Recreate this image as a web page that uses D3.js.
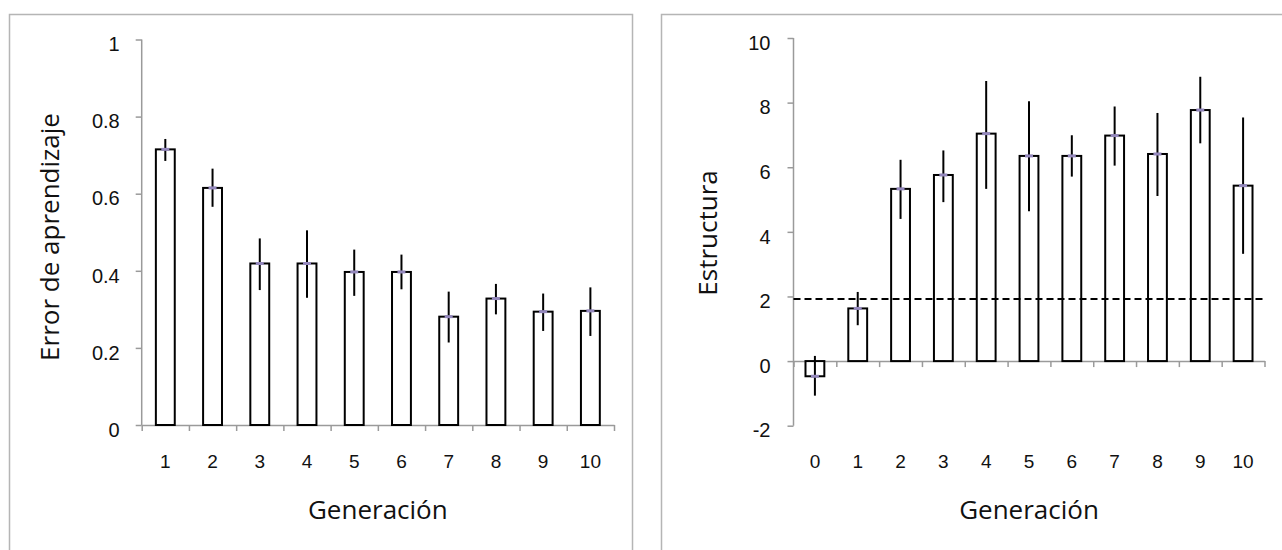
<!DOCTYPE html>
<html>
<head>
<meta charset="utf-8">
<script src="https://cdn.jsdelivr.net/npm/d3@7"></script>
<style>
  body { margin: 0; background: #fff; }
  svg { display: block; font-family: "Open Sans", Lato, sans-serif; }
</style>
</head>
<body>
<svg id="chart" width="1282" height="550"></svg>
<script>
// left panel: learning error per generation
const genLeft = ["1", "2", "3", "4", "5", "6", "7", "8", "9", "10"];
const errorMean = [0.715, 0.615, 0.419, 0.419, 0.397, 0.397, 0.281, 0.328, 0.294, 0.296];
const errorLow  = [0.685, 0.566, 0.350, 0.330, 0.335, 0.352, 0.214, 0.287, 0.244, 0.231];
const errorHigh = [0.742, 0.665, 0.484, 0.505, 0.455, 0.442, 0.346, 0.366, 0.341, 0.357];
const errorTicks = [0, 0.2, 0.4, 0.6, 0.8, 1];

// right panel: structure per generation
const genRight = ["0", "1", "2", "3", "4", "5", "6", "7", "8", "9", "10"];
const structMean = [-0.47, 1.63, 5.33, 5.76, 7.04, 6.35, 6.35, 6.98, 6.41, 7.77, 5.43];
const structLow  = [-1.07, 1.11, 4.40, 4.92, 5.33, 4.64, 5.71, 6.05, 5.11, 6.74, 3.32];
const structHigh = [0.16, 2.14, 6.23, 6.52, 8.67, 8.04, 6.99, 7.88, 7.68, 8.80, 7.54];
const structTicks = [-2, 0, 2, 4, 6, 8, 10];
const chanceLevel = 1.92;

const svg = d3.select("#chart");
const axisColor = "#9a9a9a";

// panel frames
svg.append("rect").attr("x", 9.5).attr("y", 14.5).attr("width", 623).attr("height", 600)
    .attr("fill", "none").attr("stroke", "#b5b5b5").attr("stroke-width", 1.5);
svg.append("rect").attr("x", 661.5).attr("y", 14.5).attr("width", 700).attr("height", 600)
    .attr("fill", "none").attr("stroke", "#b5b5b5").attr("stroke-width", 1.5);

function drawPanel(opt) {
    const g = svg.append("g");
    const n = opt.cats.length;

    const x = d3.scaleBand()
        .domain(opt.cats)
        .range(opt.xRange)
        .paddingInner(opt.pad)
        .paddingOuter(opt.pad / 2);

    const xEdges = d3.scaleLinear().domain([0, n]).range(opt.xRange);

    const y = d3.scaleLinear().domain(opt.yDomain).range(opt.yRange);

    // y axis
    const yAxis = g.append("g")
        .attr("transform", `translate(${opt.xRange[0]},0)`)
        .call(d3.axisLeft(y).tickValues(opt.ticks).tickSize(6).tickSizeOuter(0).tickPadding(opt.yPad)
            .tickFormat(d => String(d)));
    yAxis.selectAll("line, path").attr("stroke", axisColor).attr("stroke-width", 1.5);
    yAxis.selectAll("text").attr("font-size", 20).attr("fill", "#111").attr("dy", "0.56em");
    yAxis.select(".domain").attr("d", `M0,${y(opt.yDomain[0])}V${y(opt.yDomain[1])}`);

    // x axis line and boundary ticks
    const xAxis = g.append("g")
        .attr("transform", `translate(0,${y(0)})`)
        .call(d3.axisBottom(xEdges).ticks(n).tickSize(6).tickSizeOuter(0).tickFormat(""));
    xAxis.selectAll("line, path").attr("stroke", axisColor).attr("stroke-width", 1.5);

    // category labels
    const xLab = g.append("g")
        .attr("transform", `translate(0,${opt.labelY})`)
        .call(d3.axisBottom(x).tickSize(0).tickPadding(0));
    xLab.select(".domain").remove();
    xLab.selectAll("text").attr("font-size", 19).attr("fill", "#111").attr("dy", 0);

    // bars
    g.append("g").selectAll("rect")
        .data(opt.mean)
        .join("rect")
        .attr("x", (d, i) => x(opt.cats[i]))
        .attr("y", d => Math.min(y(d), y(0)))
        .attr("width", x.bandwidth())
        .attr("height", d => Math.abs(y(d) - y(0)))
        .attr("fill", "#fff")
        .attr("stroke", "#000")
        .attr("stroke-width", 2);

    // reference line
    if (opt.refLine !== undefined) {
        g.append("line")
            .attr("x1", opt.xRange[0]).attr("x2", opt.xRange[1])
            .attr("y1", y(opt.refLine)).attr("y2", y(opt.refLine))
            .attr("stroke", "#000").attr("stroke-width", 2)
            .attr("stroke-dasharray", "7,4");
    }

    // error bars
    g.append("g").selectAll("line")
        .data(opt.mean)
        .join("line")
        .attr("x1", (d, i) => x(opt.cats[i]) + x.bandwidth() / 2)
        .attr("x2", (d, i) => x(opt.cats[i]) + x.bandwidth() / 2)
        .attr("y1", (d, i) => y(opt.low[i]))
        .attr("y2", (d, i) => y(opt.high[i]))
        .attr("stroke", "#000")
        .attr("stroke-width", 2);

    // mean markers
    g.append("g").selectAll("line")
        .data(opt.mean)
        .join("line")
        .attr("x1", (d, i) => x(opt.cats[i]) + x.bandwidth() / 2 - 4)
        .attr("x2", (d, i) => x(opt.cats[i]) + x.bandwidth() / 2 + 4)
        .attr("y1", d => y(d))
        .attr("y2", d => y(d))
        .attr("stroke", "#9488bd")
        .attr("stroke-width", 3);

    // titles
    g.append("text")
        .attr("x", (opt.xRange[0] + opt.xRange[1]) / 2)
        .attr("y", 519)
        .attr("text-anchor", "middle")
        .attr("font-size", 26)
        .attr("fill", "#111")
        .text("Generación");

    g.append("text")
        .attr("transform", `translate(${opt.yTitleX},${opt.yTitleY}) rotate(-90)`)
        .attr("text-anchor", "middle")
        .attr("font-size", 26)
        .attr("fill", "#111")
        .text(opt.yTitle);
}

drawPanel({
    cats: genLeft, mean: errorMean, low: errorLow, high: errorHigh, ticks: errorTicks,
    xRange: [141.7, 614], yDomain: [0, 1], yRange: [425, 39.5], pad: 0.6,
    yPad: 16, labelY: 468, yTitleX: 59, yTitleY: 237, yTitle: "Error de aprendizaje"
});

drawPanel({
    cats: genRight, mean: structMean, low: structLow, high: structHigh, ticks: structTicks,
    xRange: [793.5, 1264.5], yDomain: [-2, 10], yRange: [425.7, 38], pad: 0.56,
    yPad: 17, labelY: 468, yTitleX: 717, yTitleY: 233, yTitle: "Estructura", refLine: chanceLevel
});
</script>
</body>
</html>
